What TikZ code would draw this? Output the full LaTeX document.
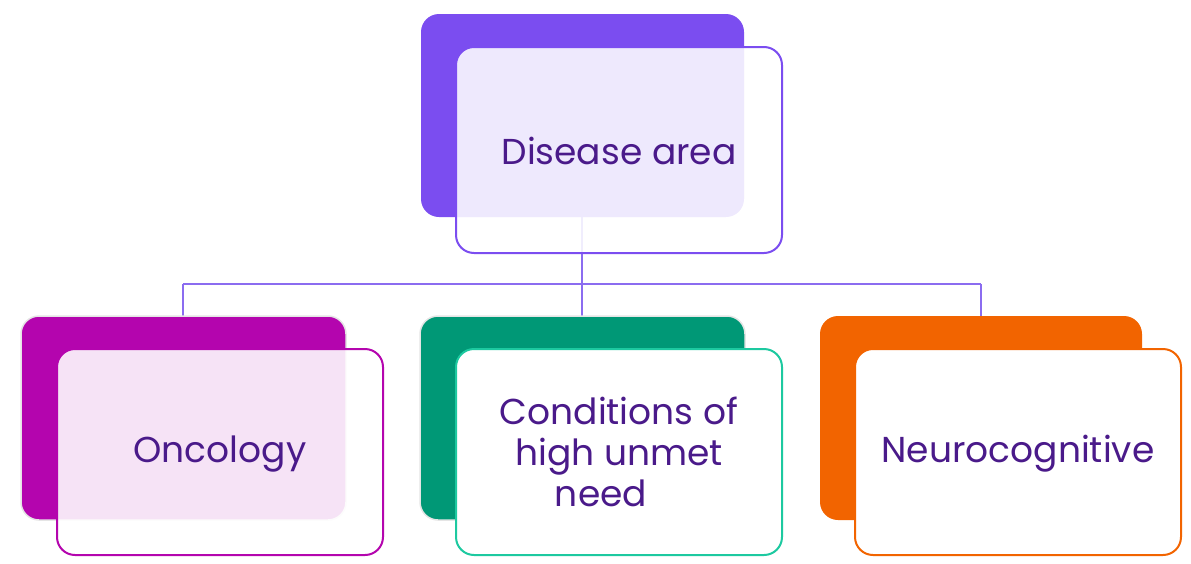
\documentclass[tikz,border=0pt]{standalone}
\usepackage{fontspec}
\setmainfont{Poppins}
\definecolor{txt}{HTML}{4A1A8A}
\definecolor{cPur}{HTML}{7B4DF0}
\definecolor{cLine}{HTML}{8B6CF0}
\definecolor{cMag}{HTML}{B405AE}
\definecolor{cGrnD}{HTML}{009876}
\definecolor{cGrnL}{HTML}{1DC9A0}
\definecolor{cOra}{HTML}{F26400}
\tikzset{
  backbox/.style={draw=black!10, line width=1.5pt, rounded corners=18pt},
  frontbox/.style={line width=2pt, rounded corners=18pt, fill=white},
  lbl/.style={text=txt, font=\fontsize{36}{41}\selectfont, align=center},
  conn/.style={draw=cLine, line width=1.5pt}
}
\begin{document}
\begin{tikzpicture}[x=1pt,y=-1pt]
\useasboundingbox (0,0) rectangle (1191,563);
% anchor coordinates
\coordinate (topB) at (582,217);
\coordinate (bus) at (582,284);
\coordinate (c1) at (183,316);
\coordinate (c2) at (582,316);
\coordinate (c3) at (981,316);
% connectors
\draw[conn] (topB) -- (bus);
\draw[conn] (c1 |- bus) -- (c3 |- bus);
\draw[conn] (c1 |- bus) -- (c1);
\draw[conn] (bus) -- (c2);
\draw[conn] (c3 |- bus) -- (c3);
% top
\fill[cPur, rounded corners=18pt] (421,14) rectangle (744,217);
\draw[frontbox, draw=cPur, fill opacity=0.88] (456,47) rectangle (782,253);
\node[lbl] (dis) at (619,151) {Disease area};
% oncology
\path[backbox, fill=cMag] (21,316) rectangle (346,520);
\draw[frontbox, draw=cMag, fill opacity=0.89] (57,349) rectangle (383,555);
\node[lbl] (onc) at (220,454) {Oncology};
% conditions
\path[backbox, fill=cGrnD] (420,316) rectangle (745,520);
\draw[frontbox, draw=cGrnL] (456,349) rectangle (782,555);
\node[lbl] (cond) at (619,452) {Conditions of\\high unmet\\need\hspace*{36pt}};
% neuro
\path[backbox, draw=none, fill=cOra] (820,316) rectangle (1142,520);
\draw[frontbox, draw=cOra] (855,349) rectangle (1181,555);
\node[lbl] (neu) at (1018,454) {Neurocognitive};
\end{tikzpicture}
\end{document}
